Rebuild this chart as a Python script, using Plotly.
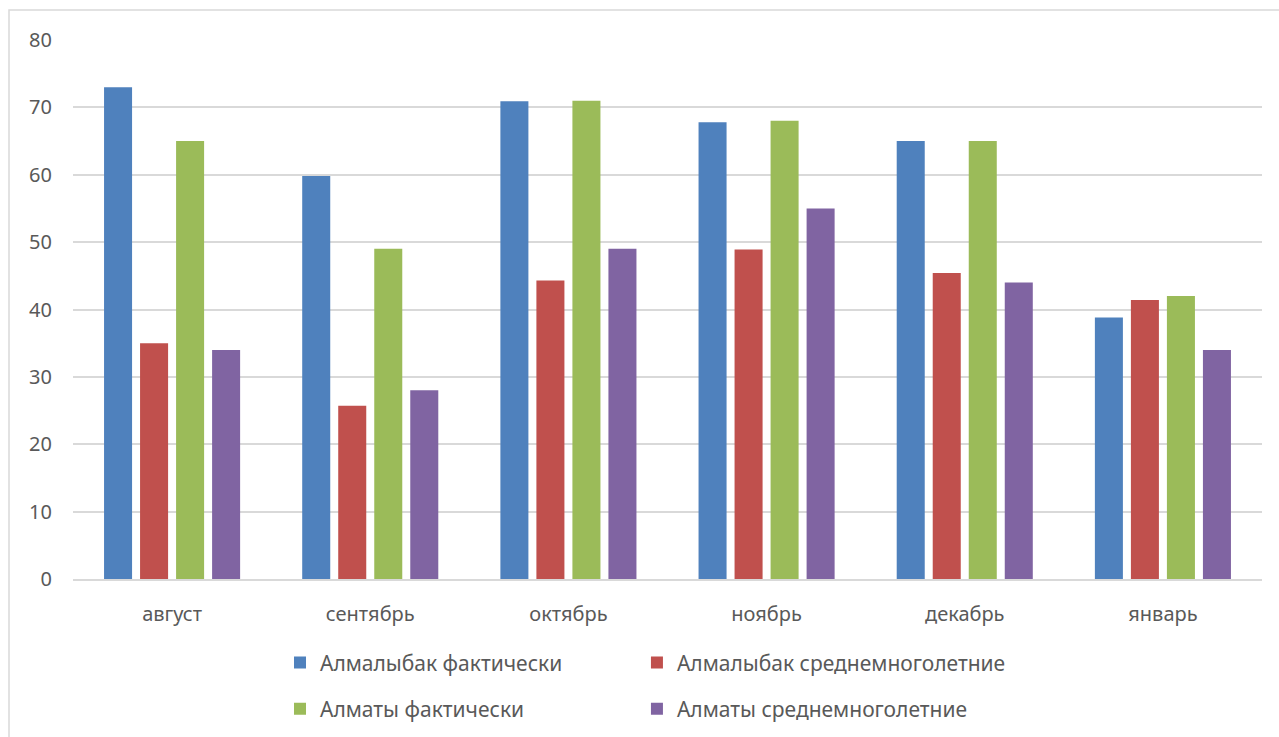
import plotly.graph_objects as go

months = ["август", "сентябрь", "октябрь", "ноябрь", "декабрь", "январь"]
almalybak_fact = [73, 59.8, 70.9, 67.8, 65, 38.8]
almalybak_norm = [35, 25.7, 44.3, 48.9, 45.4, 41.4]
almaty_fact = [65, 49, 71, 68, 65, 42]
almaty_norm = [34, 28, 49, 55, 44, 34]

series = [
    ("Алмалыбак фактически", almalybak_fact, "#4f81bd"),
    ("Алмалыбак среднемноголетние", almalybak_norm, "#c0504d"),
    ("Алматы фактически", almaty_fact, "#9bbb59"),
    ("Алматы среднемноголетние", almaty_norm, "#8064a2"),
]

FONT = "Noto Sans"
TXT = "#595959"
SIZE = 20
LEGEND_SIZE = 21

# one legend box per entry, laid out as a 2x2 grid under the plot
legend_ids = ["legend", "legend2", "legend3", "legend4"]
legend_pos = [(0.1741, -0.1556), (0.4743, -0.1556),
              (0.1741, -0.2416), (0.4743, -0.2416)]

fig = go.Figure()
for (name, vals, color), leg in zip(series, legend_ids):
    fig.add_trace(go.Bar(
        x=months, y=vals, name=name, legend=leg, showlegend=True,
        marker=dict(color=color, line=dict(color=color, width=0)),
    ))

legend_layout = {}
for leg, (lx, ly) in zip(legend_ids, legend_pos):
    legend_layout[leg] = dict(
        x=lx, y=ly, orientation="h", xanchor="left", yanchor="middle",
        font=dict(family=FONT, size=LEGEND_SIZE, color=TXT),
        bgcolor="rgba(0,0,0,0)",
    )

fig.update_layout(
    width=1279, height=737,
    margin=dict(l=73, r=17, t=40, b=158, autoexpand=False),
    showlegend=True,
    paper_bgcolor="white", plot_bgcolor="white",
    barmode="group", bargap=0.273, bargroupgap=0.222,
    font=dict(family=FONT, size=SIZE, color=TXT),
    xaxis=dict(
        showgrid=False, showline=True, linecolor="#d9d9d9", linewidth=1.5,
        ticks="", ticklabelstandoff=16,
        tickfont=dict(family=FONT, size=SIZE, color=TXT),
    ),
    yaxis=dict(
        range=[0, 80], dtick=10, showgrid=True, gridcolor="#d9d9d9",
        gridwidth=1.5, zeroline=False, showline=False, ticks="",
        ticklabelstandoff=20,
        tickfont=dict(family=FONT, size=SIZE, color=TXT),
    ),
    shapes=[dict(
        type="rect", xref="paper", yref="paper",
        x0=(9 - 73) / 1189, x1=(1300 - 73) / 1189,
        y0=(579 - 760) / 539, y1=(579 - 10) / 539,
        line=dict(color="#d9d9d9", width=1.5), fillcolor="rgba(0,0,0,0)",
        layer="below",
    )],
    **legend_layout,
)

fig.write_html("out.html")
